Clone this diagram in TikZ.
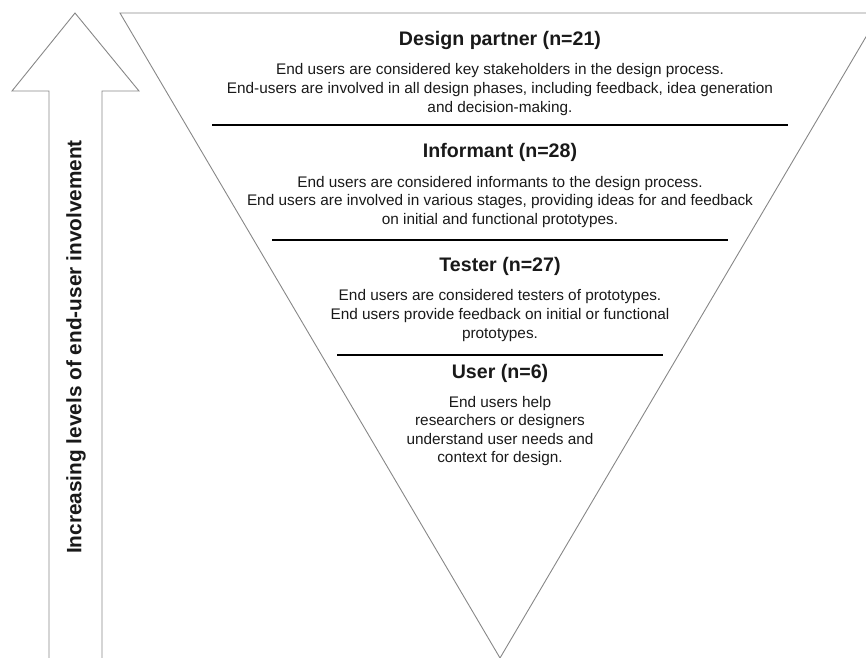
\documentclass[tikz,border=0pt]{standalone}
\usepackage{fontspec}
\setmainfont{Liberation Sans}
\definecolor{linegray}{RGB}{135,135,135}
\definecolor{txt}{RGB}{25,25,25}
\begin{document}
\begin{tikzpicture}[x=1pt,y=-1pt,
  outline/.style={draw=linegray,line width=0.9pt,line join=miter},
  sepline/.style={draw=black,line width=1.3pt},
  title/.style={font=\fontsize{19.6}{23}\selectfont\bfseries,text=txt,inner sep=0pt},
  body/.style={font=\fontsize{15.35}{18.6}\selectfont,text=txt,align=center,inner sep=0pt},
  vlabel/.style={font=\fontsize{20.8}{24}\selectfont\bfseries,text=txt,rotate=90,inner sep=0pt}]
\useasboundingbox (0,0) rectangle (866,657);
\clip (0,0) rectangle (866,657);
% arrow
\draw[outline] (49,670) -- (49,91) -- (12,91) -- (75,13) -- (139,91) -- (102,91) -- (102,670);
% triangle
\draw[outline] (120,13) -- (880,13) -- (500,658) -- cycle;
% separators
\coordinate (s1a) at (212,125); \coordinate (s1b) at (788,125);
\coordinate (s2a) at (272,240); \coordinate (s2b) at (728,240);
\coordinate (s3a) at (337,355); \coordinate (s3b) at (663,355);
\draw[sepline] (s1a) -- (s1b);
\draw[sepline] (s2a) -- (s2b);
\draw[sepline] (s3a) -- (s3b);
% texts
\node[vlabel] (v) at (76,347) {Increasing levels of end-user involvement};
\node[title] (t1) at (500,40) {Design partner (n=21)};
\node[body] (b1) at (500,89.5) {End users are considered key stakeholders in the design process.\\End-users are involved in all design phases, including feedback, idea generation\\and decision-making.};
\node[title] (t2) at (500,152) {Informant (n=28)};
\node[body] (b2) at (500,202) {End users are considered informants to the design process.\\End users are involved in various stages, providing ideas for and feedback\\on initial and functional prototypes.};
\node[title] (t3) at (500,266) {Tester (n=27)};
\node[body] (b3) at (500,315.5) {End users are considered testers of prototypes.\\End users provide feedback on initial or functional\\prototypes.};
\node[title] (t4) at (500,373) {User (n=6)};
\node[body] (b4) at (500,431) {End users help\\researchers or designers\\understand user needs and\\context for design.};
\end{tikzpicture}
\end{document}
